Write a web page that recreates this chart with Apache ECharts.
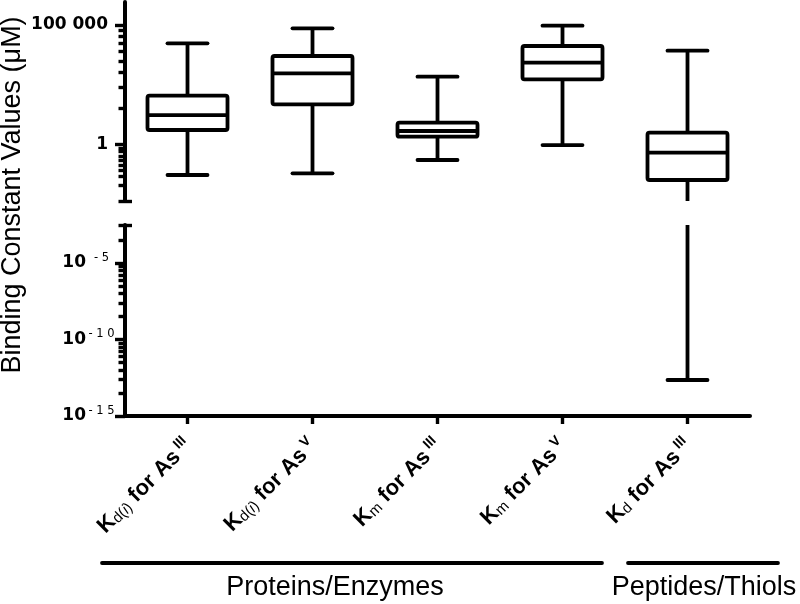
<!DOCTYPE html>
<html><head><meta charset="utf-8">
<script src="https://cdn.jsdelivr.net/npm/echarts@6/dist/echarts.min.js"></script>
<style>html,body{margin:0;padding:0;background:#fff}#chart{width:800px;height:604px}</style>
</head><body><div id="chart"></div>
<script>
// ---- data ----
const categories = ['Kd(i) for AsIII', 'Kd(i) for AsV', 'Km for AsIII', 'Km for AsV', 'Kd for AsIII'];
const labelSub = ['d(i)', 'd(i)', 'm', 'm', 'd'];
const labelSup = ['III', 'V', 'III', 'V', 'III'];
const groupNames = ['Proteins/Enzymes', 'Peptides/Thiols'];
const whiskerMin = [0.053, 0.062, 0.225, 0.95, 2.25e-13];
const quartile1 = [4.04, 48, 2.12, 535, 0.0327];
const medians = [17.1, 953, 3.67, 2650, 0.454];
const quartile3 = [110, 5050, 8.2, 13200, 3.12];
const whiskerMax = [17150, 72800, 687, 93500, 8400];
// ---- axes ----
const upperRange = [0.00433, 916000];
const lowerRange = [1e-15, 0.00305];
const upperMajorTicks = [1, 100000];
const upperMajorLabels = ['1', '100 000'];
const upperMinorTicks = [0.02, 0.045, 0.086, 0.14, 0.22, 0.33, 0.5, 0.69, 32, 243, 1024, 3125, 7776, 16807, 32768, 59049];
const lowerMajorTicks = [1e-15, 1e-10, 1e-5];
const lowerMajorExponents = ['- 1 5', '- 1 0', '- 5'];
const lowerMinorTicks = [3.2e-14, 2.43e-13, 1.024e-12, 3.125e-12, 7.776e-12, 1.6807e-11, 3.2768e-11, 5.9049e-11,
  3.2e-9, 2.43e-8, 1.024e-7, 3.125e-7, 7.776e-7, 1.6807e-6, 3.2768e-6, 5.9049e-6, 3.2e-4];
const yTitle = 'Binding Constant Values (\u03bcM)';

const LW = 3.8;
const boxData = categories.map((c, i) => [i, whiskerMin[i], quartile1[i], medians[i], quartile3[i], whiskerMax[i]]);

function renderBox(params, api) {
  const cs = params.coordSys;
  const top = cs.y, bot = cs.y + cs.height;
  const i = api.value(0);
  const vals = [1, 2, 3, 4, 5].map(d => api.value(d));
  const cx = api.coord([i, vals[2]])[0];
  const band = api.coord([1, vals[2]])[0] - api.coord([0, vals[2]])[0];
  const ys = vals.map(v => api.coord([i, v])[1]);
  const yMin = ys[0], yQ1 = ys[1], yMed = ys[2], yQ3 = ys[3], yMax = ys[4];
  const hw = band * 0.32, cw = band * 0.16;
  const clamp = y => Math.min(bot, Math.max(top, y));
  const children = [];
  const vline = (a, b) => {
    const y1 = clamp(a), y2 = clamp(b);
    if (Math.abs(y1 - y2) > 0.5) children.push({type: 'line', shape: {x1: cx, y1: y1, x2: cx, y2: y2}, style: {stroke: '#000', lineWidth: LW}});
  };
  const hline = (y, w, cap) => {
    if (y >= top - 1 && y <= bot + 1) children.push({type: 'line', shape: {x1: cx - w, y1: y, x2: cx + w, y2: y}, style: {stroke: '#000', lineWidth: LW, lineCap: cap}});
  };
  vline(yQ3, yMax); vline(yQ1, yMin);
  hline(yMax, cw, 'round'); hline(yMin, cw, 'round');
  if (yQ3 >= top - 1 && yQ1 <= bot + 1) {
    children.push({type: 'rect', shape: {x: cx - hw, y: yQ3, width: 2 * hw, height: yQ1 - yQ3, r: 2}, style: {fill: '#fff', stroke: '#000', lineWidth: LW}});
    hline(yMed, hw, 'butt');
  }
  return {type: 'group', children: children};
}

const tickFont = 'DejaVu Sans';
const tickRich = {
  b: {fontFamily: tickFont, fontWeight: 'bold', fontSize: 17, lineHeight: 22, verticalAlign: 'middle', color: '#000'},
  sup: {fontFamily: tickFont, fontSize: 11.5, lineHeight: 11, verticalAlign: 'top', color: '#000', width: 27, align: 'left', padding: [0, 0, 0, 2]}
};
const xFont = 'Liberation Sans';
const xRich = {
  k: {fontFamily: xFont, fontWeight: 'bold', fontSize: 22, lineHeight: 24, verticalAlign: 'bottom', color: '#000'},
  sub: {fontFamily: xFont, fontSize: 15, lineHeight: 14, verticalAlign: 'bottom', color: '#000'},
  subi: {fontFamily: xFont, fontStyle: 'italic', fontSize: 15, lineHeight: 14, verticalAlign: 'bottom', color: '#000'},
  sup: {fontFamily: xFont, fontWeight: 'bold', fontSize: 14, lineHeight: 12, verticalAlign: 'top', color: '#000', padding: [0, 0, 0, 4]}
};
function xLabel(value, idx) {
  const sub = labelSub[idx];
  let subTxt;
  if (sub.indexOf('(i)') >= 0) {
    subTxt = '{sub|' + sub.replace('(i)', '(') + '}{subi|i}{sub|)}';
  } else {
    subTxt = '{sub|' + sub + '}';
  }
  return '{k|K}' + subTxt + '{k| for As}{sup|' + labelSup[idx] + '}';
}

const axisLineStyle = {color: '#000', width: 4};
const tickLine = {color: '#000', width: 3.4};
function yAxes(gridIndex, range, majors, labelFmt, minors, capVal, margin) {
  const base = {type: 'log', gridIndex: gridIndex, min: range[0], max: range[1], position: 'left', offset: 0,
    splitLine: {show: false}, minorTick: {show: false}, minorSplitLine: {show: false}};
  return [
    Object.assign({}, base, {
      axisLine: {show: true, lineStyle: axisLineStyle},
      axisTick: {show: true, customValues: majors, length: 10, lineStyle: tickLine},
      axisLabel: {show: true, customValues: majors, margin: margin, formatter: labelFmt, rich: tickRich}
    }),
    Object.assign({}, base, {
      axisLine: {show: false},
      axisTick: {show: true, customValues: minors.concat([capVal]), length: 6.5, lineStyle: tickLine},
      axisLabel: {show: false}
    }),
    Object.assign({}, base, {
      axisLine: {show: false},
      axisTick: {show: true, customValues: [capVal], inside: true, length: 7, lineStyle: tickLine},
      axisLabel: {show: false}
    })
  ];
}
const upperFmt = v => {
  const e = Math.round(Math.log10(v));
  const i = upperMajorTicks.findIndex(t => Math.round(Math.log10(t)) === e);
  return i < 0 ? '' : '{b|' + upperMajorLabels[i] + '}';
};
const lowerFmt = v => {
  const e = Math.round(Math.log10(v));
  const i = lowerMajorTicks.findIndex(t => Math.round(Math.log10(t)) === e);
  return i < 0 ? '' : '{b|10}{sup|' + lowerMajorExponents[i] + '}';
};

const chart = echarts.init(document.getElementById('chart'), null, {renderer: 'canvas'});
chart.setOption({
  animation: false,
  backgroundColor: '#fff',
  textStyle: {fontFamily: 'Liberation Sans', color: '#000'},
  grid: [
    {left: 125, top: 2, width: 625, height: 199, containLabel: false, outerBoundsMode: 'none'},
    {left: 125, top: 225, width: 625, height: 191, containLabel: false, outerBoundsMode: 'none'}
  ],
  xAxis: [
    {type: 'category', gridIndex: 0, data: categories, show: false},
    {type: 'category', gridIndex: 1, data: categories, position: 'bottom',
      axisLine: {show: true, lineStyle: axisLineStyle},
      axisTick: {show: true, alignWithLabel: true, length: 8, lineStyle: tickLine},
      axisLabel: {show: true, rotate: 45, margin: 26, interval: 0, formatter: xLabel, rich: xRich},
      splitLine: {show: false}}
  ],
  yAxis: [].concat(
    yAxes(0, upperRange, upperMajorTicks, upperFmt, upperMinorTicks, upperRange[0] * 1.002, 17),
    yAxes(1, lowerRange, lowerMajorTicks, lowerFmt, lowerMinorTicks, lowerRange[1] * 0.998, 10)
  ),
  series: [
    {type: 'custom', xAxisIndex: 0, yAxisIndex: 0, renderItem: renderBox, data: boxData, encode: {x: 0, y: [1, 2, 3, 4, 5]}, silent: true, z: 5},
    {type: 'custom', xAxisIndex: 1, yAxisIndex: 3, renderItem: renderBox, data: boxData, encode: {x: 0, y: [1, 2, 3, 4, 5]}, silent: true, z: 5}
  ],
  graphic: [
    {type: 'text', x: 13, y: 195, rotation: Math.PI / 2, silent: true,
      style: {text: yTitle, fontFamily: 'Liberation Sans', fontSize: 27, fill: '#000', align: 'center', verticalAlign: 'middle'}},
    {type: 'line', silent: true, shape: {x1: 102, y1: 563, x2: 602, y2: 563}, style: {stroke: '#000', lineWidth: 3.8, lineCap: 'round'}},
    {type: 'line', silent: true, shape: {x1: 628, y1: 563, x2: 778, y2: 563}, style: {stroke: '#000', lineWidth: 3.8, lineCap: 'round'}},
    {type: 'text', silent: true, x: 335, y: 588, style: {text: groupNames[0], fontFamily: 'Liberation Sans', fontSize: 27, fill: '#000', align: 'center', verticalAlign: 'middle'}},
    {type: 'text', silent: true, x: 704, y: 588, style: {text: groupNames[1], fontFamily: 'Liberation Sans', fontSize: 27, fill: '#000', align: 'center', verticalAlign: 'middle'}}
  ]
});
</script>
</body></html>
